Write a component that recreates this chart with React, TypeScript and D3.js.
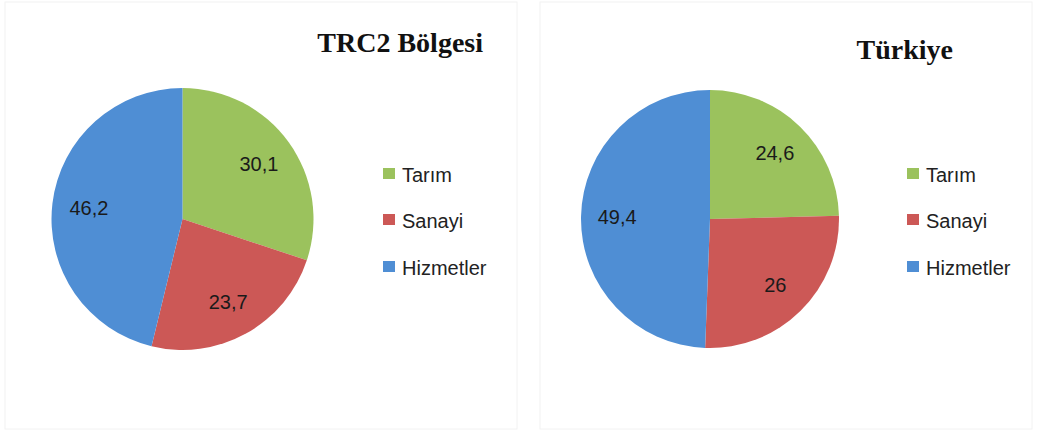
import React from "react";
import * as d3 from "d3";

// sectors and shares (%)
const sectors = ["Tarım", "Sanayi", "Hizmetler"];
const trc2Values = [30.1, 23.7, 46.2];
const turkeyValues = [24.6, 26, 49.4];
const colors = ["#9bc25d", "#cc5856", "#4f8ed4"];

const charts = [
  { title: "TRC2 Bölgesi", values: trc2Values, x0: 5, w: 512, cx: 182.5, cy: 219, r: 131, titleX: 483, titleY: 52, legendX: 383 },
  { title: "Türkiye", values: turkeyValues, x0: 540, w: 492, cx: 710, cy: 219, r: 129, titleX: 953, titleY: 59, legendX: 907 },
];

const legendY = [182, 228, 275];

function fmt(v: number) {
  return String(v).replace(".", ",");
}

function PieChart({ c }: { c: any }) {
  const pie = d3.pie<number>().sort(null).value((d) => d);
  const arcs = pie(c.values);
  const arc = d3.arc<d3.PieArcDatum<number>>().innerRadius(0).outerRadius(c.r);
  const labelArc = d3
    .arc<d3.PieArcDatum<number>>()
    .innerRadius(c.r * 0.72)
    .outerRadius(c.r * 0.72);

  return (
    <g>
      <rect x={c.x0} y={2} width={c.w} height={427} fill="#fff" stroke="#f2f2f2" />
      <text
        x={c.titleX}
        y={c.titleY}
        textAnchor="end"
        fontFamily="Liberation Serif, serif"
        fontWeight="bold"
        fontSize={28}
        fill="#111"
      >
        {c.title}
      </text>
      <g transform={`translate(${c.cx},${c.cy})`}>
        {arcs.map((a, i) => (
          <path key={i} d={arc(a) || ""} fill={colors[i]} />
        ))}
        {arcs.map((a, i) => {
          const [lx, ly] = labelArc.centroid(a);
          return (
            <text
              key={"l" + i}
              x={lx}
              y={ly}
              dy="0.35em"
              textAnchor="middle"
              fontFamily="Liberation Sans, sans-serif"
              fontSize={20}
              fill="#1a1a1a"
            >
              {fmt(c.values[i])}
            </text>
          );
        })}
      </g>
      {sectors.map((s, i) => (
        <g key={s}>
          <rect x={c.legendX} y={legendY[i] - 14} width={12} height={11} fill={colors[i]} />
          <text
            x={c.legendX + 19}
            y={legendY[i]}
            fontFamily="Liberation Sans, sans-serif"
            fontSize={20}
            fill="#222"
          >
            {s}
          </text>
        </g>
      ))}
    </g>
  );
}

export default function App() {
  return (
    <svg
      width={1038}
      height={433}
      style={{ position: "absolute", left: 0, top: 0, background: "#fff" }}
    >
      {charts.map((c) => (
        <PieChart key={c.title} c={c} />
      ))}
    </svg>
  );
}
